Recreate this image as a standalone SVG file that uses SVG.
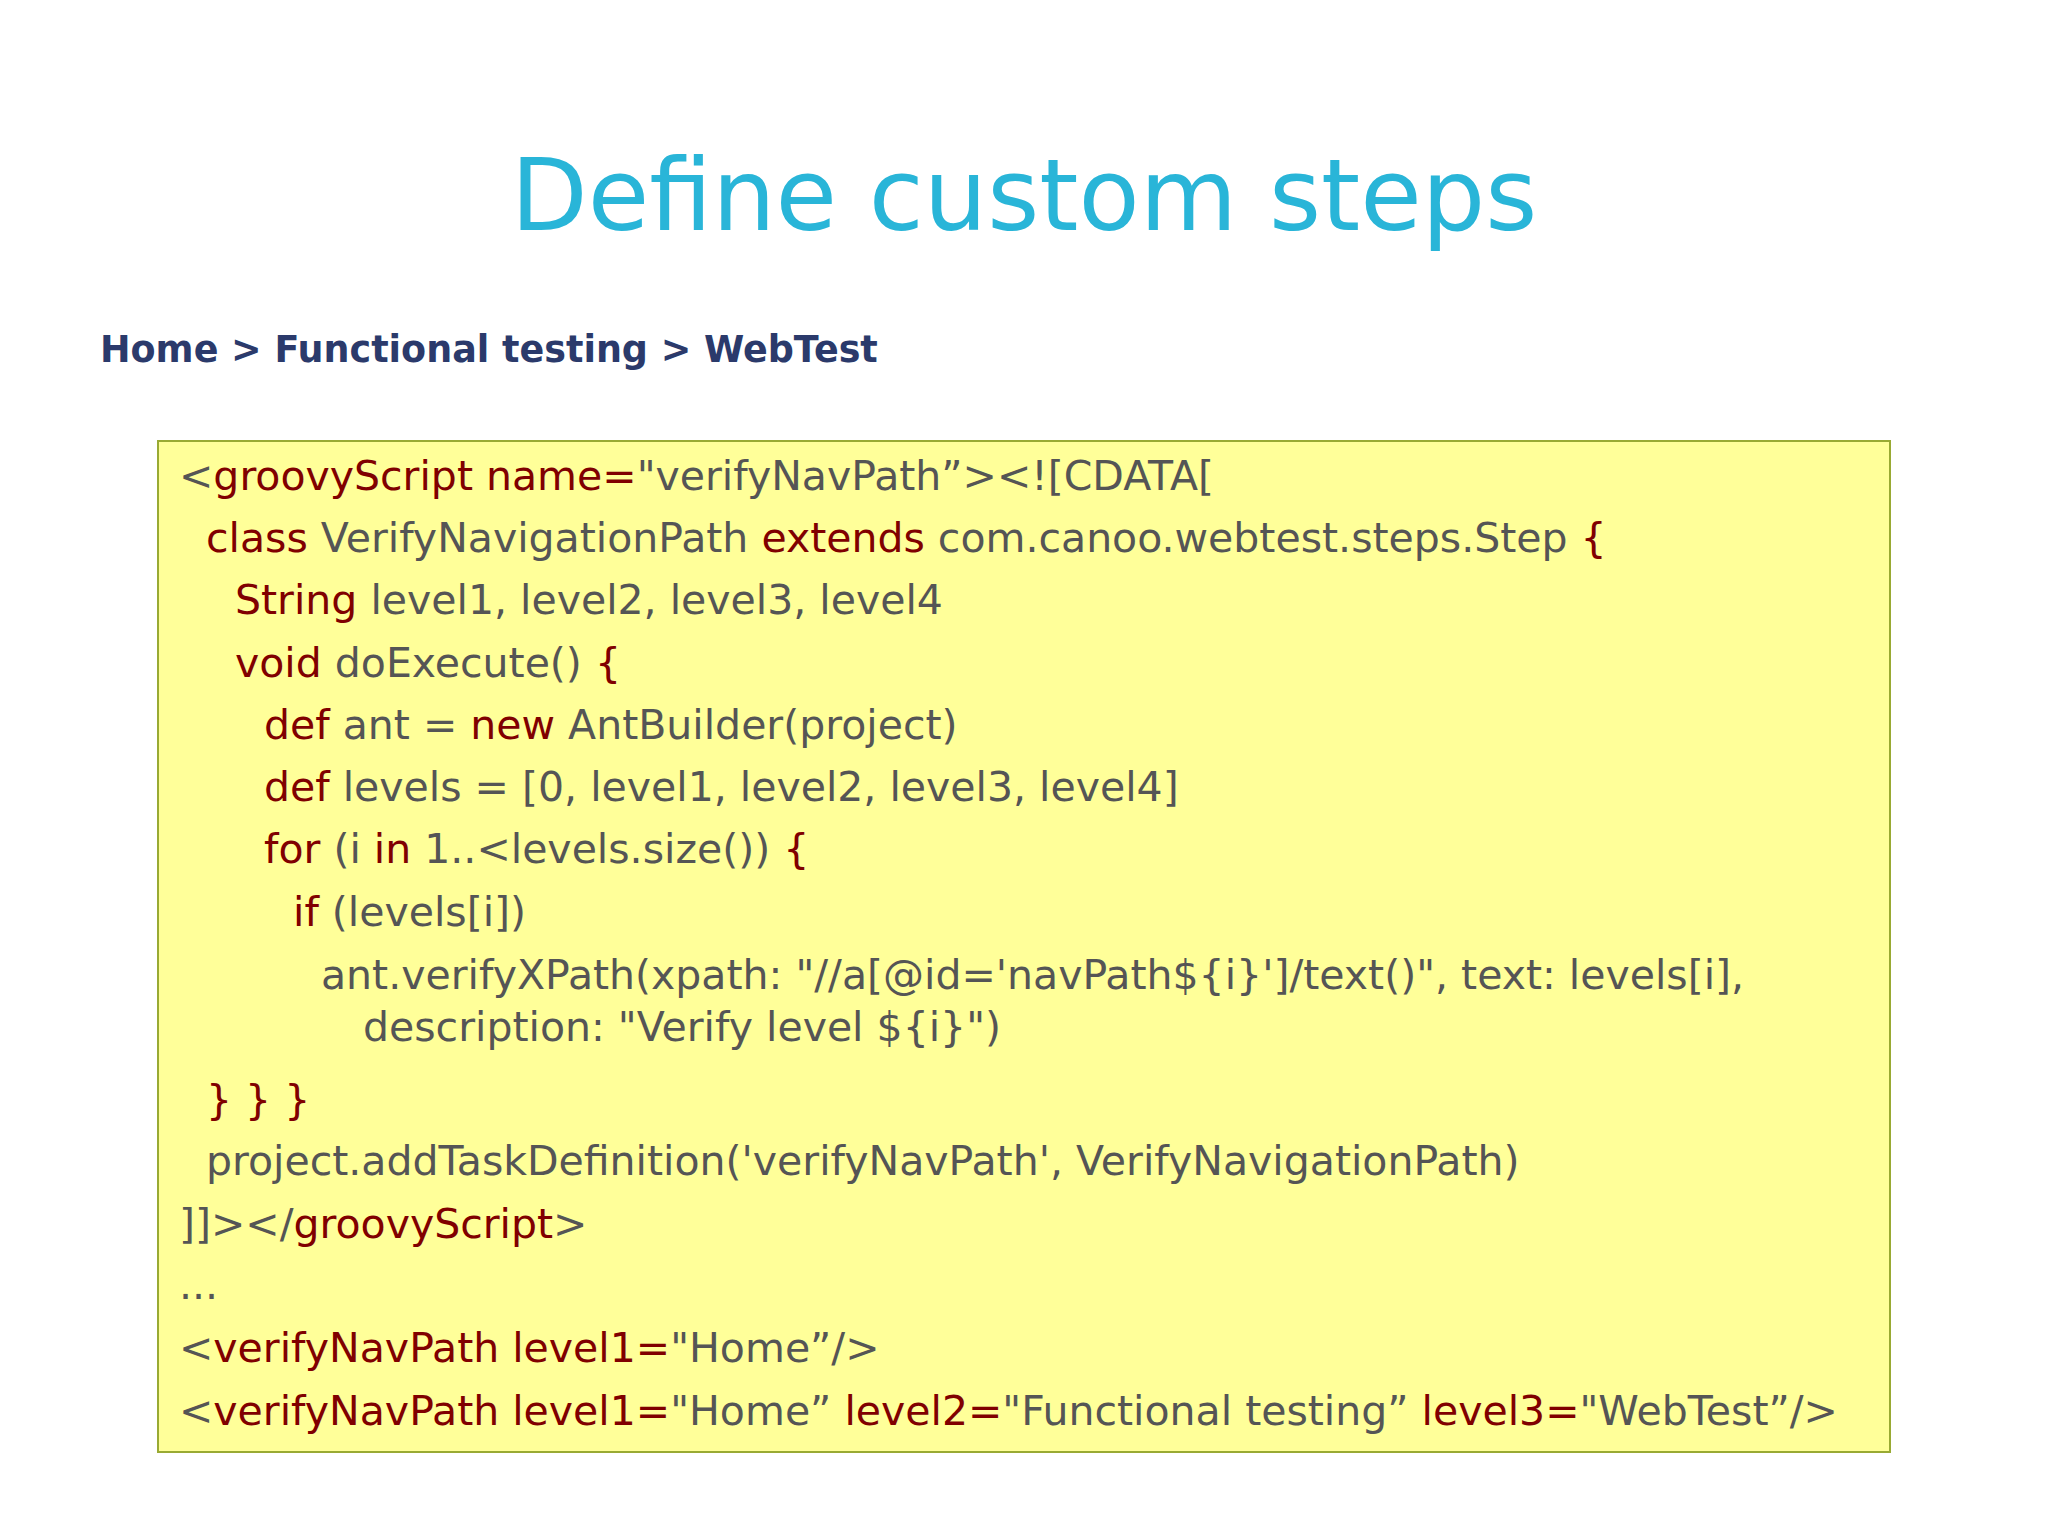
<svg xmlns="http://www.w3.org/2000/svg" width="2048" height="1535" viewBox="0 0 2048 1535">
<style>
.c{font-family:"DejaVu Sans",Verdana,sans-serif;font-size:41px;fill:#555}
.k{fill:#800000}
</style>
<rect width="2048" height="1535" fill="#fff"/>
<text x="1024" y="230" text-anchor="middle" font-family="'DejaVu Sans',sans-serif" font-size="100" fill="#29b5d8">Define custom steps</text>
<text x="100" y="362" font-family="'DejaVu Sans',sans-serif" font-weight="bold" font-size="36.5" fill="#2b3a6b">Home &gt; Functional testing &gt; WebTest</text>
<g id="codebox">
<rect x="158" y="441" width="1732" height="1011" fill="#ffff99" stroke="#99aa33" stroke-width="2"/>
<text class="c" x="179" y="490">&lt;<tspan class="k">groovyScript name=</tspan>"verifyNavPath”&gt;&lt;![CDATA[</text>
<text class="c" x="206" y="552"><tspan class="k">class</tspan> VerifyNavigationPath <tspan class="k">extends</tspan> com.canoo.webtest.steps.Step <tspan class="k">{</tspan></text>
<text class="c" x="235" y="614"><tspan class="k">String</tspan> level1, level2, level3, level4</text>
<text class="c" x="235" y="677"><tspan class="k">void</tspan> doExecute() <tspan class="k">{</tspan></text>
<text class="c" x="264" y="739"><tspan class="k">def</tspan> ant = <tspan class="k">new</tspan> AntBuilder(project)</text>
<text class="c" x="264" y="801"><tspan class="k">def</tspan> levels = [0, level1, level2, level3, level4]</text>
<text class="c" x="264" y="863"><tspan class="k">for</tspan> (i <tspan class="k">in</tspan> 1..&lt;levels.size()) <tspan class="k">{</tspan></text>
<text class="c" x="293" y="926"><tspan class="k">if</tspan> (levels[i])</text>
<text class="c" x="321" y="989">ant.verifyXPath(xpath: "//a[@id='navPath${i}']/text()", text: levels[i],</text>
<text class="c" x="363" y="1041">description: "Verify level ${i}")</text>
<text class="c k" x="206" y="1114">} } }</text>
<text class="c" x="206" y="1175">project.addTaskDefinition('verifyNavPath', VerifyNavigationPath)</text>
<text class="c" x="179" y="1238">]]&gt;&lt;/<tspan class="k">groovyScript</tspan>&gt;</text>
<text class="c" x="179" y="1299">...</text>
<text class="c" x="179" y="1362">&lt;<tspan class="k">verifyNavPath level1=</tspan>"Home”/&gt;</text>
<text class="c" x="179" y="1425">&lt;<tspan class="k">verifyNavPath level1=</tspan>"Home” <tspan class="k">level2=</tspan>"Functional testing” <tspan class="k">level3=</tspan>"WebTest”/&gt;</text>
</g>
</svg>
